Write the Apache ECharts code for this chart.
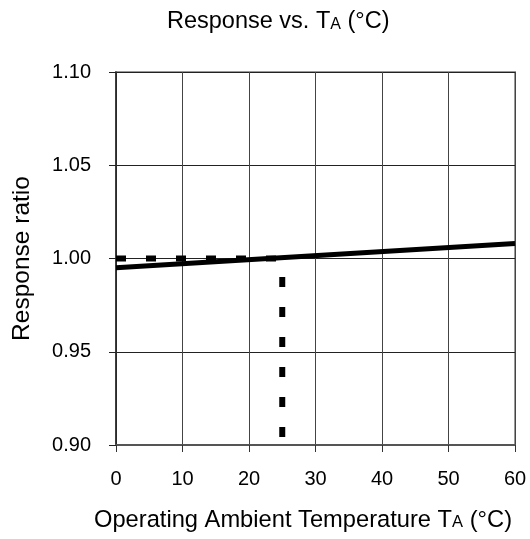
<!DOCTYPE html>
<html>
<head>
<meta charset="utf-8">
<script src="https://cdn.jsdelivr.net/npm/echarts@6/dist/echarts.min.js"></script>
<style>html,body{margin:0;padding:0;background:#fff}#c{width:530px;height:539px}</style>
</head>
<body>
<div id="c"></div>
<script>
// Data
const responseLine = [[0, 0.995], [60, 1.008]];
const refHorizontal = [[0, 1.0], [25, 1.0]];
const refVertical = [[25, 1.0], [25, 0.9]];
const xTicks = { min: 0, max: 60, interval: 10 };
const yTicks = { min: 0.90, max: 1.10, interval: 0.05 };

const FONT = 'Liberation Sans, Arial, Helvetica, sans-serif';
const chart = echarts.init(document.getElementById('c'), null, { renderer: 'canvas' });
chart.setOption({
  animation: false,
  backgroundColor: '#fff',
  title: {
    text: 'Response vs. T{s|A} (°C)',
    left: 162, top: 5,
    textStyle: {
      fontFamily: FONT, fontSize: 23.5, fontWeight: 'normal', color: '#000',
      rich: { s: { fontFamily: FONT, fontSize: 16, color: '#000', verticalAlign: 'bottom', padding: [0,0,1,0] } }
    }
  },
  grid: { left: 116, right: 15, top: 72, bottom: 94, show: true, borderColor: '#999', borderWidth: 2 },
  xAxis: {
    type: 'value', min: xTicks.min, max: xTicks.max, interval: xTicks.interval,
    name: 'Operating Ambient Temperature T{s|A} (°C)',
    nameLocation: 'middle', nameGap: 63,
    nameTextStyle: {
      fontFamily: FONT, fontSize: 23.7, color: '#000', padding: [0, 25, 0, 0],
      rich: { s: { fontFamily: FONT, fontSize: 16.5, color: '#000', verticalAlign: 'bottom', padding: [0,0,1,0] } }
    },
    axisLine: { show: true, onZero: false, lineStyle: { color: '#555', width: 2 } },
    axisTick: { show: true, length: 7, lineStyle: { color: '#333', width: 1 } },
    axisLabel: { fontFamily: FONT, fontSize: 20, color: '#000', margin: 24 },
    splitLine: { show: true, lineStyle: { color: '#444', width: 1 } }
  },
  yAxis: {
    type: 'value', min: yTicks.min, max: yTicks.max, interval: yTicks.interval,
    name: 'Response ratio', nameLocation: 'middle', nameGap: 81,
    nameTextStyle: { fontFamily: FONT, fontSize: 24.5, color: '#000' },
    axisLine: { show: true, lineStyle: { color: '#222', width: 1.5 } },
    axisTick: { show: true, length: 7, lineStyle: { color: '#222', width: 1 } },
    axisLabel: { fontFamily: FONT, fontSize: 20, color: '#000', margin: 25,
      formatter: v => v.toFixed(2) },
    splitLine: { show: true, lineStyle: { color: '#222', width: 1 } }
  },
  series: [
    {
      type: 'line', data: refHorizontal, showSymbol: false, symbol: 'none',
      lineStyle: { color: '#000', width: 6, type: [10, 20], cap: 'butt' }, z: 3
    },
    {
      type: 'line', data: refVertical, showSymbol: false, symbol: 'none',
      lineStyle: { color: '#000', width: 6, type: [10, 20], dashOffset: 11.5, cap: 'butt' }, z: 3
    },
    {
      type: 'line', data: responseLine, showSymbol: false, symbol: 'none',
      lineStyle: { color: '#000', width: 5 }, z: 4
    }
  ]
});
</script>
</body>
</html>
